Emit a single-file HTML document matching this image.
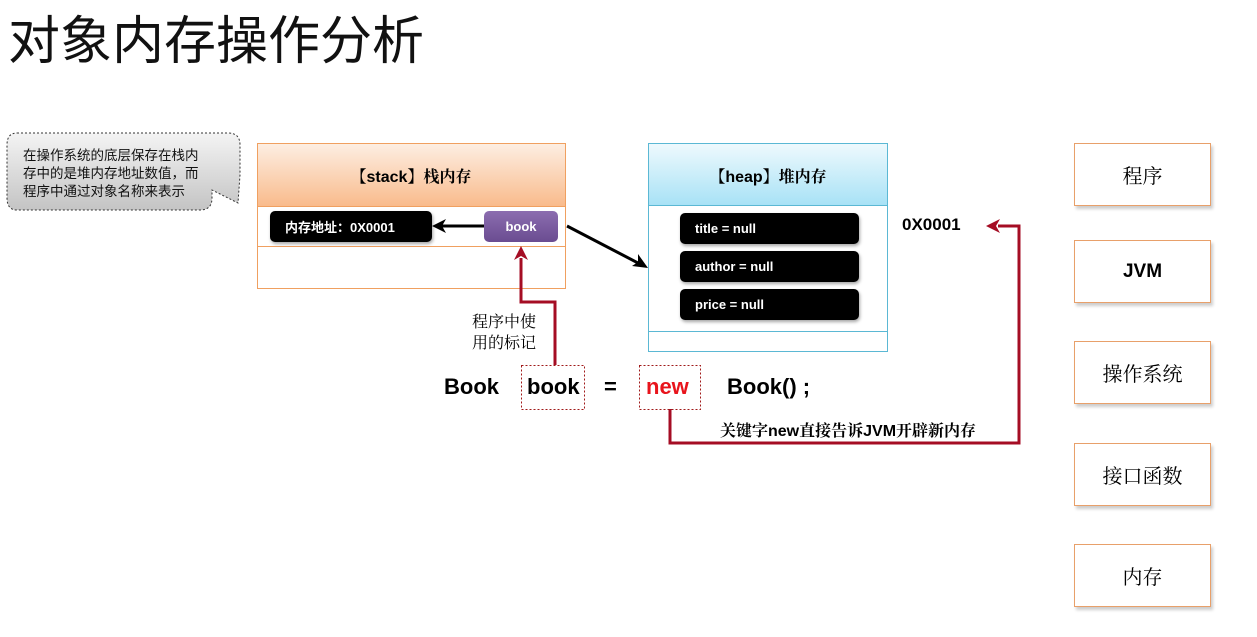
<!DOCTYPE html>
<html><head><meta charset="utf-8"><style>
body{margin:0;width:1257px;height:637px;background:#fff;position:relative;overflow:hidden;font-family:"Liberation Sans","Noto Sans CJK SC",sans-serif;}
.a{position:absolute;}
.cn{font-family:"Liberation Sans","Noto Serif CJK SC","Noto Sans CJK SC",serif;}
.blk{position:absolute;background:#000;color:#fff;border-radius:5px;font-weight:bold;font-size:13px;box-shadow:1px 2px 3px rgba(0,0,0,.35);box-sizing:border-box;padding-left:15px;display:flex;align-items:center;}
.rb{position:absolute;left:1074px;width:137px;height:63px;border:1px solid #e8a06a;box-sizing:border-box;box-shadow:2px 3px 3px rgba(0,0,0,.2);display:flex;align-items:center;justify-content:center;font-size:20px;color:#000;}
</style></head><body>
<div class="a" style="left:8px;top:4px;font-size:52px;line-height:66px;font-family:'Noto Sans CJK SC',sans-serif;color:#111;">对象内存操作分析</div>

<svg class="a" style="left:0;top:0" width="1257" height="637">
<defs>
<linearGradient id="g1" x1="0" y1="0" x2="0" y2="1"><stop offset="0" stop-color="#f4f4f4"/><stop offset="1" stop-color="#c4c4c4"/></linearGradient>
<linearGradient id="g2" x1="0" y1="0" x2="0" y2="1"><stop offset="0" stop-color="#fdeee2"/><stop offset="1" stop-color="#f9bb8c"/></linearGradient>
<linearGradient id="g3" x1="0" y1="0" x2="0" y2="1"><stop offset="0" stop-color="#eef9fd"/><stop offset="1" stop-color="#a8e2f6"/></linearGradient>
<linearGradient id="g4" x1="0" y1="0" x2="0" y2="1"><stop offset="0" stop-color="#8c6db0"/><stop offset="1" stop-color="#6a4c91"/></linearGradient>
</defs>
<path d="M17,133 H228 Q240,133 240,145 V165 L240,175 L238,203 L212,190 V198 Q212,210 200,210 H17 Q7,210 7,198 V145 Q7,133 17,133Z" fill="url(#g1)" stroke="#333" stroke-dasharray="2,2" stroke-width="1"/>
<!-- stack -->
<rect x="257.5" y="143.5" width="308" height="145" fill="#fff" stroke="#f0a060"/>
<rect x="258" y="144" width="307" height="62" fill="url(#g2)"/>
<line x1="258" y1="206.5" x2="565" y2="206.5" stroke="#f0a060"/>
<line x1="258" y1="246.5" x2="565" y2="246.5" stroke="#f0a060"/>
<rect x="484" y="211" width="74" height="31" rx="5" fill="url(#g4)"/>
<!-- heap -->
<rect x="648.5" y="143.5" width="239" height="208" fill="#fff" stroke="#5bb8d4"/>
<rect x="649" y="144" width="238" height="61" fill="url(#g3)"/>
<line x1="649" y1="205.5" x2="887" y2="205.5" stroke="#5bb8d4"/>
<line x1="649" y1="331.5" x2="887" y2="331.5" stroke="#5bb8d4"/>
<!-- black arrows -->
<line x1="484" y1="226" x2="442" y2="226" stroke="#000" stroke-width="3"/>
<path d="M432,226 L446,219 L442,226 L446,233Z" fill="#000"/>
<line x1="567" y1="226" x2="640" y2="264" stroke="#000" stroke-width="3"/>
<path d="M648,268 L632,266 L638,262 L638,254Z" fill="#000"/>
<!-- red lines -->
<polyline points="555,365 555,302 521,302 521,258" fill="none" stroke="#a50d24" stroke-width="3"/>
<path d="M521,246 L514,260 L521,256 L528,260Z" fill="#a50d24"/>
<polyline points="670,409 670,443 1019,443 1019,226 998,226" fill="none" stroke="#a50d24" stroke-width="3"/>
<path d="M986,226 L1000,219 L996,226 L1000,233Z" fill="#a50d24"/>
<!-- dashed boxes -->
<rect x="521.5" y="365.5" width="63" height="44" fill="none" stroke="#a01a1a" stroke-dasharray="2,2"/>
<rect x="639.5" y="365.5" width="61" height="44" fill="none" stroke="#a01a1a" stroke-dasharray="2,2"/>
</svg>

<div class="a" style="left:23px;top:145px;font-size:13.5px;line-height:18px;color:#111;font-family:'Noto Sans CJK SC',sans-serif;">在操作系统的底层保存在栈内<br>存中的是堆内存地址数值，而<br>程序中通过对象名称来表示</div>
<div class="a cn" style="left:257px;top:164px;width:308px;text-align:center;font-size:16px;font-weight:bold;">【stack】栈内存</div>
<div class="blk" style="left:270px;top:211px;width:162px;height:31px;">内存地址：0X0001</div>
<div class="a" style="left:484px;top:211px;width:74px;height:31px;line-height:31px;text-align:center;color:#fff;font-weight:bold;font-size:13px;">book</div>
<div class="a cn" style="left:648px;top:164px;width:240px;text-align:center;font-size:16px;font-weight:bold;">【heap】堆内存</div>
<div class="blk" style="left:680px;top:213px;width:179px;height:31px;">title = null</div>
<div class="blk" style="left:680px;top:251px;width:179px;height:31px;">author = null</div>
<div class="blk" style="left:680px;top:289px;width:179px;height:31px;">price = null</div>
<div class="a" style="left:902px;top:215px;font-size:17px;font-weight:bold;">0X0001</div>
<div class="a cn" style="left:472px;top:312px;font-size:16px;line-height:21px;">程序中使<br>用的标记</div>
<div class="a" style="left:444px;top:374px;font-size:22px;font-weight:bold;">Book</div>
<div class="a" style="left:527px;top:374px;font-size:22px;font-weight:bold;">book</div>
<div class="a" style="left:604px;top:374px;font-size:22px;font-weight:bold;">=</div>
<div class="a" style="left:646px;top:374px;font-size:22px;font-weight:bold;color:#e8141c;">new</div>
<div class="a" style="left:727px;top:374px;font-size:22px;font-weight:bold;">Book() ;</div>
<div class="a cn" style="left:720px;top:418px;font-size:16px;font-weight:bold;">关键字new直接告诉JVM开辟新内存</div>

<div class="rb cn" style="top:143px;">程序</div>
<div class="rb" style="top:240px;font-weight:bold;font-size:19px;">JVM</div>
<div class="rb cn" style="top:341px;">操作系统</div>
<div class="rb cn" style="top:443px;">接口函数</div>
<div class="rb cn" style="top:544px;">内存</div>
</body></html>
